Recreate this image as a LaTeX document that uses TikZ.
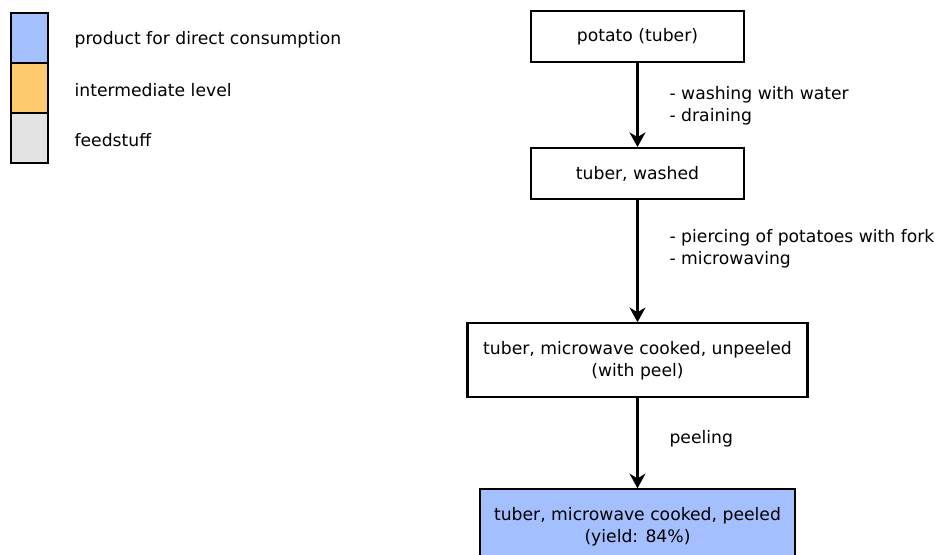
\documentclass[tikz,border=0pt]{standalone}
\usepackage{fontspec}
\setmainfont{DejaVu Sans}
\usetikzlibrary{arrows.meta, positioning}
\definecolor{keyblue}{RGB}{164, 191, 253}
\definecolor{keyorange}{RGB}{253, 203, 110}
\definecolor{keygray}{RGB}{227, 227, 227}
\tikzset{
    stepbox/.style={rectangle, draw, line width=1.6pt, fill=white, align=center, minimum height=38.25pt, font=\fontsize{12.9}{16.5}\selectfont},
    keybox/.style={rectangle, draw, line width=1.6pt, outer sep=0pt, minimum width=28pt, minimum height=37.5pt},
    keytext/.style={inner sep=0pt, anchor=west, yshift=-1.5pt, font=\fontsize{12.9}{16.5}\selectfont}
}

\begin{document}
\begin{tikzpicture}[
    node distance=64.5pt,
    flow/.style={-{Stealth[length=11pt, width=12pt, inset=3.5pt]}, line width=1.6pt},
    steplabel/.style={anchor=west, xshift=23.25pt, inner sep=0pt, align=left, font=\fontsize{12.9}{16.5}\selectfont}
]
    \useasboundingbox (0,0) rectangle (701.25pt,-416.25pt);

    % Legend
    \node[keybox, fill=keyblue, anchor=north west] (kblue) at (8.25pt,-9.5pt) {};
    \node[keybox, fill=keyorange, below=0pt of kblue] (korange) {};
    \node[keybox, fill=keygray, below=0pt of korange] (kgray) {};
    \node[keytext, right=19.5pt of kblue] (tblue) {product for direct consumption};
    \node[keytext, right=19.5pt of korange] (torange) {intermediate level};
    \node[keytext, right=19.5pt of kgray] (tgray) {feedstuff};

    % Process chain
    \node[stepbox, minimum width=160pt] (potato) at (478.125pt,-27.375pt) {potato (tuber)};
    \node[stepbox, minimum width=160pt, below=63pt of potato] (washed) {tuber, washed};
    \node[stepbox, minimum width=255pt, minimum height=55.5pt, below=91.5pt of washed] (cooked) {tuber, microwave cooked, unpeeled\\(with peel)};
    \node[stepbox, fill=keyblue, minimum width=236.5pt, minimum height=55.5pt, below=67.5pt of cooked] (peeled) {tuber, microwave cooked, peeled\\(yield: 84\%)};

    % Steps
    \draw[flow] (potato.south) -- node[steplabel, pos=0.51] {- washing with water\\- draining} (washed.north);
    \draw[flow] (washed.south) -- node[steplabel, pos=0.4] {- piercing of potatoes with fork\\- microwaving} (cooked.north);
    \draw[flow] (cooked.south) -- node[steplabel, pos=0.45] {peeling} (peeled.north);

\end{tikzpicture}
\end{document}
